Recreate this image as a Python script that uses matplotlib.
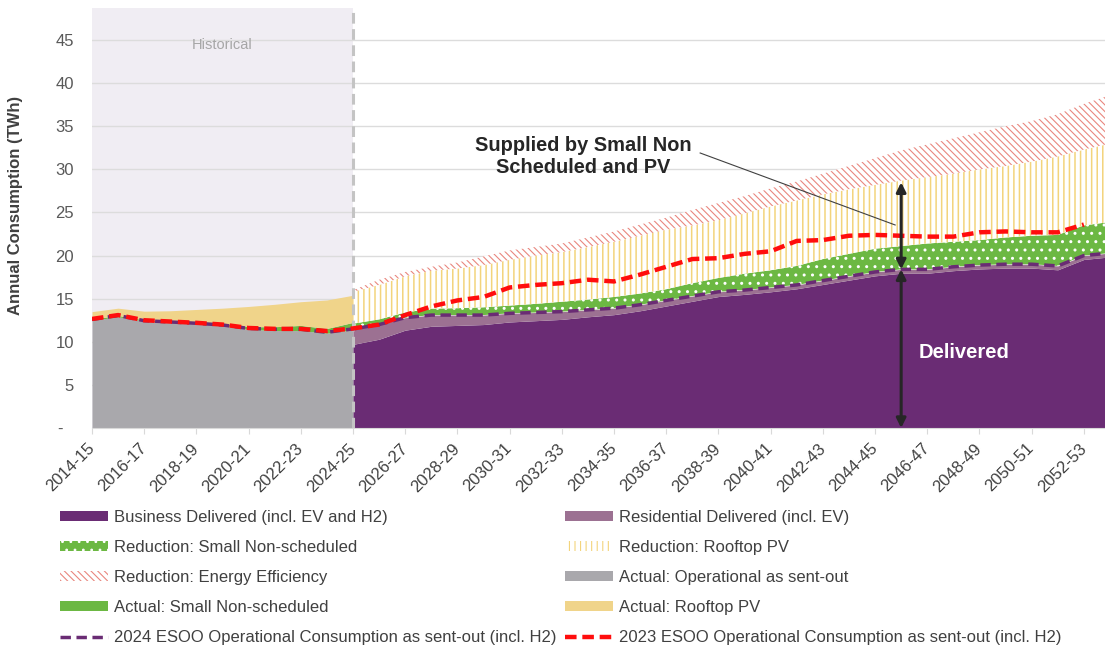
import matplotlib
matplotlib.use('Agg')
import matplotlib.pyplot as plt
import numpy as np
from matplotlib.patches import Patch
from matplotlib.lines import Line2D

plt.rcParams['font.family'] = ['Liberation Sans', 'DejaVu Sans']

# ---------------- data ----------------
categories = ['2014-15', '2015-16', '2016-17', '2017-18', '2018-19', '2019-20', '2020-21',
              '2021-22', '2022-23', '2023-24', '2024-25', '2025-26', '2026-27', '2027-28',
              '2028-29', '2029-30', '2030-31', '2031-32', '2032-33', '2033-34', '2034-35',
              '2035-36', '2036-37', '2037-38', '2038-39', '2039-40', '2040-41', '2041-42',
              '2042-43', '2043-44', '2044-45', '2045-46', '2046-47', '2047-48', '2048-49',
              '2049-50', '2050-51', '2051-52', '2052-53', '2053-54']

# Historical actuals (2014-15 .. 2024-25)
actual_operational = [12.5, 12.9, 12.4, 12.25, 12.1, 11.9, 11.45, 11.3, 11.3, 11.0, 11.4]
actual_small_ns = [0.15, 0.15, 0.15, 0.15, 0.15, 0.2, 0.3, 0.45, 0.6, 0.55, 0.85]
actual_rooftop_pv = [0.85, 0.85, 1.0, 1.2, 1.5, 1.8, 2.35, 2.6, 2.75, 3.3, 3.15]

# Forecast components (2024-25 .. 2053-54)
business = [9.7, 10.3, 11.35, 11.8, 11.9, 12.0, 12.3, 12.45, 12.6, 12.9, 13.15, 13.6, 14.15,
            14.7, 15.25, 15.5, 15.8, 16.15, 16.65, 17.15, 17.65, 17.95, 17.95, 18.25, 18.45,
            18.55, 18.55, 18.35, 19.55, 19.85]
residential = [1.8, 1.7, 1.45, 1.3, 1.2, 1.1, 1.0, 0.95, 0.9, 0.8, 0.75, 0.7, 0.65, 0.6, 0.55,
               0.5, 0.5, 0.45, 0.45, 0.45, 0.45, 0.45, 0.45, 0.45, 0.45, 0.45, 0.45, 0.45, 0.45, 0.45]
red_small_ns = [0.6, 0.6, 0.6, 0.75, 0.8, 0.9, 0.9, 1.0, 1.15, 1.2, 1.3, 1.3, 1.3, 1.5, 1.6,
                1.9, 2.0, 2.2, 2.5, 2.6, 2.7, 2.7, 3.0, 2.9, 2.9, 3.1, 3.3, 3.6, 3.5, 3.6]
red_rooftop_pv = [3.7, 4.0, 4.2, 4.4, 4.6, 4.9, 5.3, 5.6, 5.75, 6.1, 6.4, 6.7, 6.9, 6.7, 6.7,
                  7.0, 7.4, 7.6, 7.5, 7.5, 7.4, 7.6, 7.7, 7.9, 8.2, 8.3, 8.6, 9.1, 8.8, 9.1]
red_energy_eff = [0.2, 0.6, 0.5, 0.45, 0.7, 1.0, 1.1, 1.0, 1.0, 1.1, 1.2, 1.3, 1.4, 1.8, 2.0,
                  2.0, 2.1, 2.2, 2.4, 2.7, 3.1, 3.5, 3.8, 4.1, 4.3, 4.6, 4.7, 4.9, 5.3, 5.6]

# ESOO operational consumption lines
esoo_2024 = [12.6, 13.05, 12.45, 12.3, 12.15, 11.95, 11.55, 11.45, 11.45, 11.1,
             11.5, 12.0, 12.8, 13.1, 13.1, 13.1, 13.3, 13.4, 13.5, 13.7, 13.9, 14.3, 14.8,
             15.3, 15.8, 16.0, 16.3, 16.6, 17.1, 17.6, 18.1, 18.4, 18.4, 18.7, 18.9, 19.0,
             19.0, 18.8, 20.0, 20.3]
esoo_2023 = [12.65, 13.1, 12.5, 12.35, 12.2, 12.0, 11.6, 11.5, 11.5, 11.25,
             11.55, 12.0, 13.1, 14.1, 14.8, 15.2, 16.3, 16.6, 16.8, 17.2, 17.0, 17.8, 18.7,
             19.6, 19.7, 20.2, 20.5, 21.7, 21.8, 22.3, 22.4, 22.3, 22.2, 22.2, 22.7, 22.8,
             22.7, 22.7, 23.6]

# ---------------- styles ----------------
PURPLE = '#6a2c74'
MAUVE = '#9c7192'
GREEN = '#6cb843'
GRAY = '#a9a8ac'
YELLOW = '#f0d48a'
PV_LINE = '#f3d47c'
EE_LINE = '#e9877f'
LAVENDER = '#f0edf3'
RED = '#ff0d0d'
TXT = '#404040'

fig = plt.figure(figsize=(11.05, 6.48), dpi=100)
ax = fig.add_axes([92 / 1105, 220 / 648, 1 - 92 / 1105, 420 / 648])

n_hist = len(actual_operational)
x_hist = np.arange(n_hist)
x_fc = np.arange(n_hist - 1, n_hist - 1 + len(business))

op = np.array(actual_operational)
a_sns = np.array(actual_small_ns)
a_pv = np.array(actual_rooftop_pv)
b = np.array(business)
r = np.array(residential)
s = np.array(red_small_ns)
p = np.array(red_rooftop_pv)
e = np.array(red_energy_eff)

# historical shading
ax.axvspan(0, n_hist - 1, color=LAVENDER, zorder=0.1, lw=0)

# historical stack
ax.fill_between(x_hist, 0, op, color=GRAY, lw=0, zorder=2)
ax.fill_between(x_hist, op, op + a_sns, color=GREEN, lw=0, zorder=2)
ax.fill_between(x_hist, op + a_sns, op + a_sns + a_pv, color=YELLOW, lw=0, zorder=2)

# forecast stack
ax.fill_between(x_fc, 0, b, color=PURPLE, lw=0, zorder=2)
ax.fill_between(x_fc, b, b + r, color=MAUVE, lw=0, zorder=2)
plt.rcParams['hatch.linewidth'] = 1.0
ax.fill_between(x_fc, b + r, b + r + s, facecolor=GREEN, edgecolor='white', hatch='..', lw=0, zorder=2)
plt.rcParams['hatch.linewidth'] = 1.1
ax.fill_between(x_fc, b + r + s, b + r + s + p, facecolor='white', edgecolor=PV_LINE, hatch='|||',
                lw=0, zorder=2)
plt.rcParams['hatch.linewidth'] = 0.8
ax.fill_between(x_fc, b + r + s + p, b + r + s + p + e, facecolor='white', edgecolor=EE_LINE,
                hatch='\\' * 5, lw=0, zorder=2)

# divider
ax.axvline(n_hist - 1, color='#c4c4c4', lw=2.2, dashes=(3.5, 1.8), zorder=3)

# ESOO lines
ax.plot(np.arange(len(esoo_2024)), esoo_2024, color=PURPLE, lw=2.5, dashes=(3.0, 1.6), zorder=5)
ax.plot(np.arange(len(esoo_2023)), esoo_2023, color=RED, lw=3.2, dashes=(2.6, 1.3), zorder=6)

# axes formatting
ax.set_xlim(0, 38.81)
ax.set_ylim(0, 48.72)
ax.set_yticks(np.arange(0, 50, 5))
ax.set_yticklabels([''] + [str(v) for v in range(5, 50, 5)])
ax.tick_params(axis='y', length=0, pad=13, labelsize=12, labelcolor='#595959')
ax.annotate('-', xy=(0, 0), xycoords=('axes fraction', 'data'), xytext=(-23, -1),
            textcoords='offset points', ha='center', va='center', fontsize=12, color='#595959')
ax.set_xticks(np.arange(0, len(categories), 2))
ax.set_xticklabels(categories[::2], rotation=45, ha='right', va='center', rotation_mode='anchor')
ax.tick_params(axis='x', length=4, color='#d9d9d9', pad=9, labelsize=12, labelcolor=TXT)
ax.yaxis.grid(True, color='#dcdcdc', lw=1.0)
ax.set_axisbelow(True)
for sp in ['left', 'right', 'top']:
    ax.spines[sp].set_visible(False)
ax.spines['bottom'].set_color('#d9d9d9')
ax.set_ylabel('Annual Consumption (TWh)', fontsize=12, fontweight='bold', color=TXT)
ax.yaxis.set_label_coords(-69 / 1013, 0.53)

# annotations
ax.text(4.98, 44.4, 'Historical', color='#a6a6a6', fontsize=10.5, ha='center', va='center')
ax.text(18.81, 31.55, 'Supplied by Small Non\nScheduled and PV', ha='center', va='center',
        fontsize=14.4, fontweight='bold', color='#262626', linespacing=1.2)
ax.plot([23.3, 30.77], [31.9, 23.55], color='#404040', lw=0.8, zorder=7)
arrow_kw = dict(arrowstyle='<|-|>', color='#262626', lw=2.2, mutation_scale=14, shrinkA=0, shrinkB=0)
ax.annotate('', xy=(31, 28.5), xytext=(31, 18.4), arrowprops=arrow_kw, zorder=8)
ax.annotate('', xy=(31, 18.4), xytext=(31, 0.0), arrowprops=arrow_kw, zorder=8)
ax.text(33.4, 8.8, 'Delivered', color='white', fontsize=14.5, fontweight='bold', ha='center',
        va='center', zorder=8)

# legend
h_business = Patch(facecolor=PURPLE, lw=0)
h_resid = Patch(facecolor=MAUVE, lw=0)
h_rsns = Patch(facecolor=GREEN, edgecolor='white', hatch='..', lw=0)
h_rpv = Patch(facecolor='white', edgecolor=PV_LINE, hatch='|||', lw=0)
h_ree = Patch(facecolor='white', edgecolor=EE_LINE, hatch='\\' * 5, lw=0)
h_aop = Patch(facecolor=GRAY, lw=0)
h_asns = Patch(facecolor=GREEN, lw=0)
h_apv = Patch(facecolor=YELLOW, lw=0)
h_2024 = Line2D([], [], color=PURPLE, lw=2.5, dashes=(3.0, 1.6))
h_2023 = Line2D([], [], color=RED, lw=3.2, dashes=(2.6, 1.3))

leg_kw = dict(loc='upper left', frameon=False, fontsize=12, handlelength=2.85, handleheight=0.5,
              handletextpad=0.4, labelspacing=0.9, borderpad=0, borderaxespad=0, labelcolor=TXT)
fig.legend([h_business, h_rsns, h_ree, h_asns, h_2024],
           ['Business Delivered (incl. EV and H2)', 'Reduction: Small Non-scheduled',
            'Reduction: Energy Efficiency', 'Actual: Small Non-scheduled',
            '2024 ESOO Operational Consumption as sent-out (incl. H2)'],
           bbox_to_anchor=(60 / 1105, 1 - 510 / 648), **leg_kw)
fig.legend([h_resid, h_rpv, h_aop, h_apv, h_2023],
           ['Residential Delivered (incl. EV)', 'Reduction: Rooftop PV',
            'Actual: Operational as sent-out', 'Actual: Rooftop PV',
            '2023 ESOO Operational Consumption as sent-out (incl. H2)'],
           bbox_to_anchor=(565 / 1105, 1 - 510 / 648), **leg_kw)

fig.savefig('out.png', dpi=100)
